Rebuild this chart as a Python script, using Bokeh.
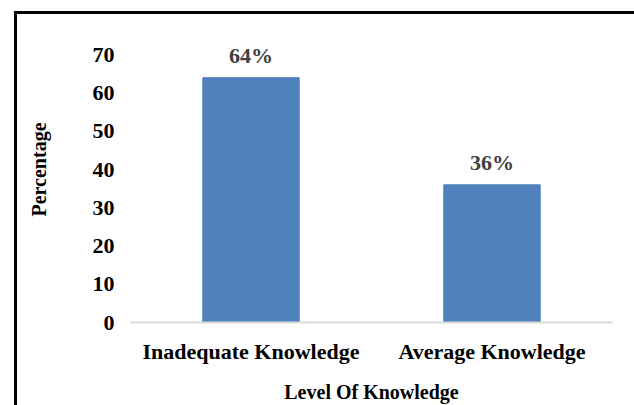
from bokeh.plotting import figure
from bokeh.models import ColumnDataSource, FixedTicker, Range1d, FactorRange
from bokeh.embed import file_html
from bokeh.resources import INLINE
from bokeh.core.properties import value

categories = ["Inadequate Knowledge", "Average Knowledge"]
percentages = [64, 36]
y_ticks = [0, 10, 20, 30, 40, 50, 60, 70]

labels = [f"{v}%" for v in percentages]
source = ColumnDataSource(data=dict(cat=categories, pct=percentages, lab=labels))

FONT = "Liberation Serif"

p = figure(
    x_range=FactorRange(*categories, range_padding=0),
    y_range=Range1d(0, 80),
    width=634, height=405,
    output_backend="svg", toolbar_location=None,
    min_border_left=130, min_border_right=22, min_border_top=16, min_border_bottom=83,
)
# black frame line along the left and top of the chart area
p.styles = {"box-shadow": "inset 14px 11px 0 0 white, inset 17px 14px 0 0 black"}

p.vbar(x="cat", top="pct", width=0.4, source=source, fill_color="#4f81bd", line_color="#4f81bd")
p.text(x="cat", y="pct", text="lab", source=source, text_align="center", text_baseline="alphabetic",
       y_offset=-22, text_font=value(FONT), text_font_style="bold", text_font_size="22px",
       text_color="#404040")

p.outline_line_color = None
p.grid.visible = False
p.background_fill_color = "white"
p.border_fill_color = None

p.yaxis.ticker = FixedTicker(ticks=y_ticks)
p.yaxis.axis_line_color = None
p.yaxis.major_tick_line_color = None
p.yaxis.minor_tick_line_color = None
p.yaxis.major_tick_out = 0
p.yaxis.major_label_standoff = 16
p.yaxis.major_label_text_font = FONT
p.yaxis.major_label_text_font_style = "bold"
p.yaxis.major_label_text_font_size = "22px"
p.yaxis.major_label_text_color = "black"
p.yaxis.axis_label = "Percentage"
p.yaxis.axis_label_text_font = FONT
p.yaxis.axis_label_text_font_style = "bold"
p.yaxis.axis_label_text_font_size = "20px"
p.yaxis.axis_label_text_color = "black"
p.yaxis.axis_label_standoff = 40

p.xaxis.axis_line_color = "#d9d9d9"
p.xaxis.axis_line_width = 2
p.xaxis.major_tick_line_color = None
p.xaxis.major_tick_out = 0
p.xaxis.major_label_standoff = 16
p.xaxis.major_label_text_font = FONT
p.xaxis.major_label_text_font_style = "bold"
p.xaxis.major_label_text_font_size = "22px"
p.xaxis.major_label_text_color = "black"
p.xaxis.axis_label = "Level Of Knowledge"
p.xaxis.axis_label_text_font = FONT
p.xaxis.axis_label_text_font_style = "bold"
p.xaxis.axis_label_text_font_size = "20px"
p.xaxis.axis_label_text_color = "black"
p.xaxis.axis_label_standoff = 14

open("out.html", "w").write(file_html(p, INLINE))
